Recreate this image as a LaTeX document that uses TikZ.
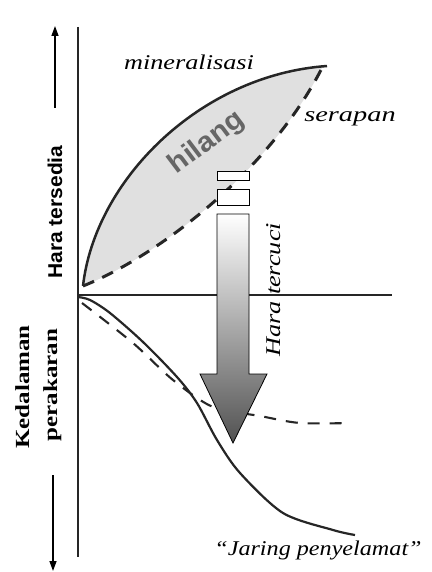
\documentclass[tikz,border=0pt]{standalone}
\usepackage{fontspec}
\setmainfont{Liberation Serif}
\newfontfamily\serifw[FakeStretch=1.25]{Liberation Serif}
\newfontfamily\sansw[FakeStretch=1.05]{Liberation Sans}
\usetikzlibrary{arrows.meta}
\tikzset{
  axisline/.style={line width=2.7pt, black!85},
  dimarrow/.style={line width=1.4pt, -{Triangle[length=10pt,width=7pt]}},
  curveline/.style={line width=2.5pt, black!85},
  dashupper/.style={line width=3pt, black!85, dash pattern=on 12pt off 9pt},
  dashlower/.style={line width=2.1pt, black!85, dash pattern=on 12pt off 10pt},
  italiclabel/.style={inner sep=0pt, font=\serifw\itshape\fontsize{21}{24}\selectfont},
  boldserif/.style={inner sep=0pt, font=\serifw\bfseries\fontsize{20}{23}\selectfont},
  boldsans/.style={inner sep=0pt, font=\sansw\bfseries\fontsize{20}{23}\selectfont},
  boxpart/.style={fill=white, draw=black, line width=0.9pt}
}
\begin{document}
\begin{tikzpicture}[x=1pt,y=-1pt]
\useasboundingbox (0,0) rectangle (431,572);
\fill[white] (0,0) rectangle (431,572);

\coordinate (o1) at (83,286);
\coordinate (m1) at (327,66);
\coordinate (s1) at (322,68);

% shaded "hilang" region
\fill[gray!24]
  (o1) .. controls (95,180) and (200,75) .. (m1)
  -- (s1) .. controls (270,170) and (160,255) .. (o1) -- cycle;

% axes
\coordinate (vtop) at (78,27);
\coordinate (vbot) at (78,557);
\coordinate (hleft) at (78,295);
\coordinate (hright) at (392,295);
\draw[axisline] (vtop) -- (vbot);
\draw[axisline] (hleft) -- (hright);

% direction arrows
\coordinate (ua0) at (55,108);
\coordinate (ua1) at (55,26);
\coordinate (la0) at (53,475);
\coordinate (la1) at (53,571);
\draw[dimarrow] (ua0) -- (ua1);
\draw[dimarrow] (la0) -- (la1);

% upper curves
\draw[curveline] (o1) .. controls (95,180) and (200,75) .. (m1);
\draw[dashupper] (o1) .. controls (160,255) and (270,170) .. (s1);

% lower curves
\draw[curveline, line width=2.2pt] plot[smooth] coordinates {(78,297) (90,300) (110,313) (143,342) (177,377) (197,403) (217,440) (240,473) (283,513) (333,530) (355,535)};
\draw[dashlower] plot[smooth] coordinates {(82,303) (133,343) (173,380) (213,407) (260,416) (300,423) (350,423)};

% leaching arrow
\draw[boxpart] (217,171) rectangle (249,180);
\draw[boxpart] (217,189) rectangle (249,205);
\shade[top color=white, bottom color=black!68, draw=black, line width=0.8pt]
  (217,214) -- (249,214) -- (249,374) -- (267,374) -- (233,443) -- (200,374) -- (217,374) -- cycle;

% labels
\node[italiclabel, anchor=base] (mineral) at (189,70) {mineralisasi};
\node[italiclabel, anchor=base, xscale=1.08] (serapan) at (350,122) {serapan};
\node[italiclabel, anchor=base, xscale=0.92] (jaring) at (318,555) {“Jaring penyelamat”};
\node[italiclabel, anchor=base, rotate=90] (tercuci) at (280,290) {Hara tercuci};
\node[boldsans, rotate=37, text=black!60, font=\sansw\bfseries\fontsize{28}{30}\selectfont] (hilang) at (207,143) {hilang};
\node[boldsans, anchor=base, rotate=90] (tersedia) at (62,212) {Hara tersedia};
\node[boldserif, anchor=base, rotate=90] (kedalaman) at (29,387) {Kedalaman};
\node[boldserif, anchor=base, rotate=90] (perakaran) at (57,385) {perakaran};
\end{tikzpicture}
\end{document}
